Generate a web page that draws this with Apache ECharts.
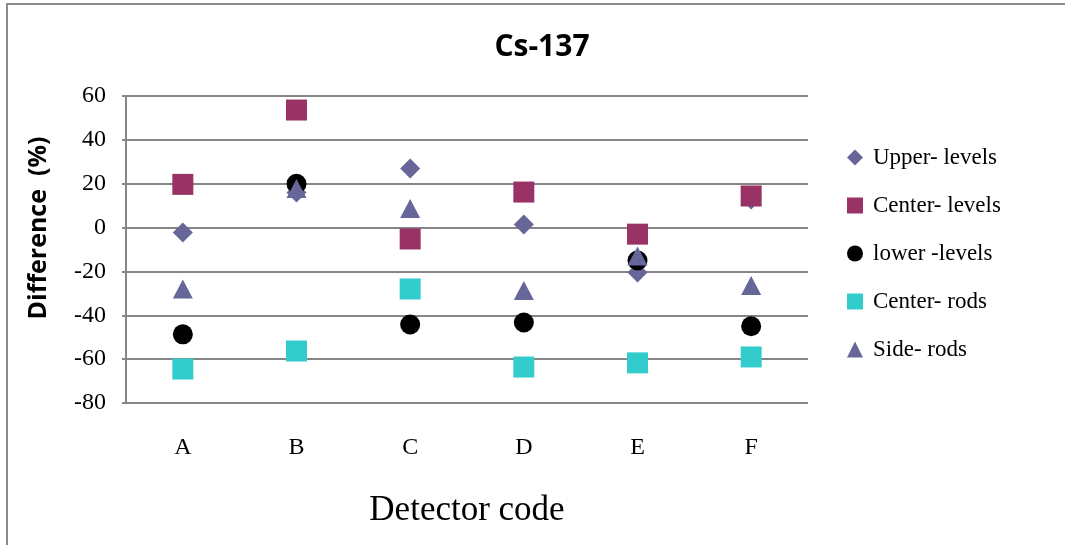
<!DOCTYPE html>
<html>
<head>
<meta charset="utf-8">
<style>
  html, body { margin: 0; padding: 0; background: #fff; }
  #chart { width: 1065px; height: 545px; }
</style>
<script src="https://cdn.jsdelivr.net/npm/echarts@6/dist/echarts.min.js"></script>
</head>
<body>
<div id="chart"></div>
<script>
// Detector codes along the x axis
const detectors = ['A', 'B', 'C', 'D', 'E', 'F'];

// Difference (%) per detector for each measurement position
const upperLevels  = [-2.3, 16, 26.9, 1.4, -20.5, 12.8];
const centerLevels = [19.7, 53.6, -5.2, 16.2, -3, 14.4];
const lowerLevels  = [-48.7, 20, -44.2, -43.3, -15, -45];
const centerRods   = [-64.5, -56.3, -28, -63.6, -61.7, -59];
const sideRods     = [-28, 17.8, 8.7, -28.7, -13, -26.4];

const yTicks = { min: -80, max: 60, step: 20 };

const serif = 'Liberation Serif';
const gridColor = '#868686';

function scatter(name, data, symbol, size, color) {
  return {
    name, type: 'scatter', data, symbol, symbolSize: size,
    itemStyle: { color, opacity: 1 },
    emphasis: { disabled: true }
  };
}

const chart = echarts.init(document.getElementById('chart'), null, { renderer: 'canvas' });

chart.setOption({
  animation: false,
  backgroundColor: '#fff',
  title: {
    text: 'Cs-137',
    left: 537, top: 27, textAlign: 'center',
    textStyle: { fontFamily: 'Open Sans', fontWeight: 'bold', fontSize: 30, color: '#000' }
  },
  graphic: [
    {
      // chart frame (only top and left edges fall inside the canvas)
      type: 'rect',
      shape: { x: 7, y: 4, width: 1100, height: 600 },
      style: { fill: 'none', stroke: '#8c8c8c', lineWidth: 2 },
      silent: true
    },
    {
      // y axis title
      type: 'text',
      x: 39, y: 228,
      rotation: Math.PI / 2,
      style: {
        text: 'Difference  (%)',
        fontFamily: 'Open Sans', fontWeight: 'bold', fontSize: 25, fill: '#000',
        align: 'center', verticalAlign: 'middle'
      },
      silent: true
    }
  ],
  grid: { left: 126, right: 257, top: 96, bottom: 142, containLabel: false },
  legend: {
    orient: 'vertical',
    left: 842, top: 141,
    itemGap: 25,
    itemWidth: 16, itemHeight: 16,
    textStyle: { fontFamily: serif, fontSize: 23, color: '#000', padding: [0, 0, 0, 5] },
    data: [
      { name: 'Upper- levels', icon: 'diamond' },
      { name: 'Center- levels', icon: 'rect' },
      { name: 'lower -levels', icon: 'circle' },
      { name: 'Center- rods', icon: 'rect' },
      { name: 'Side- rods', icon: 'triangle' }
    ]
  },
  xAxis: {
    type: 'category',
    data: detectors,
    boundaryGap: true,
    name: 'Detector code',
    nameLocation: 'middle',
    nameGap: 90,
    nameTextStyle: { fontFamily: serif, fontSize: 35, color: '#000' },
    axisLine: { show: false },
    axisTick: { show: false },
    axisLabel: { margin: 33, fontFamily: serif, fontSize: 24, color: '#000' },
    splitLine: { show: false }
  },
  yAxis: {
    type: 'value',
    min: yTicks.min, max: yTicks.max, interval: yTicks.step,
    axisLine: { show: true, lineStyle: { color: gridColor, width: 2 } },
    axisTick: { show: true, length: 4, lineStyle: { color: gridColor, width: 2 } },
    axisLabel: { margin: 20, fontFamily: serif, fontSize: 24, color: '#000' },
    splitLine: { show: true, lineStyle: { color: gridColor, width: 2 } }
  },
  series: [
    scatter('Upper- levels', upperLevels, 'diamond', [20, 20], '#666699'),
    scatter('Center- levels', centerLevels, 'rect', [21, 21], '#993366'),
    scatter('lower -levels', lowerLevels, 'circle', 20, '#000000'),
    scatter('Center- rods', centerRods, 'rect', [21, 21], '#33CCCC'),
    scatter('Side- rods', sideRods, 'triangle', [20, 19], '#666699')
  ]
});
</script>
</body>
</html>
